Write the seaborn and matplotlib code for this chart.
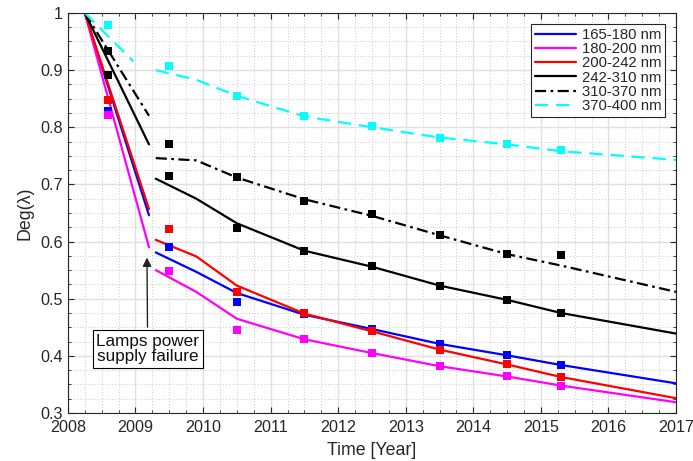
import numpy as np
import pandas as pd
import matplotlib
matplotlib.use("Agg")
import matplotlib.pyplot as plt
import seaborn as sns
from matplotlib.ticker import MultipleLocator

sns.set_style("ticks")
plt.rcParams['font.family'] = ['Liberation Sans', 'DejaVu Sans']

labels = ['165-180 nm', '180-200 nm', '200-242 nm', '242-310 nm', '310-370 nm', '370-400 nm']
colors = ['#0000ff', '#ff00ff', '#ff0000', '#000000', '#000000', '#00ffff']
styles = ['-', '-', '-', '-', (0, (5, 2, 1.2, 2)), (0, (6, 3.5))]

# fit before the lamp failure
t_pre = [2008.25, 2009.2]
t_pre_cyan = [2008.25, 2008.97]
pre_165 = [1.0, 0.646]
pre_180 = [1.0, 0.590]
pre_200 = [1.0, 0.657]
pre_242 = [1.0, 0.770]
pre_310 = [1.0, 0.820]
pre_370 = [1.0, 0.915]

# fit after the failure
t_post = [2009.3, 2009.9, 2010.5, 2011.5, 2012.5, 2013.5, 2014.5, 2015.3, 2017.0]
post_165 = [0.581, 0.547, 0.510, 0.472, 0.447, 0.421, 0.401, 0.384, 0.352]
post_180 = [0.550, 0.512, 0.465, 0.429, 0.405, 0.382, 0.364, 0.348, 0.319]
post_200 = [0.603, 0.574, 0.523, 0.474, 0.443, 0.411, 0.385, 0.363, 0.326]
post_242 = [0.710, 0.675, 0.632, 0.584, 0.556, 0.523, 0.498, 0.475, 0.439]
post_310 = [0.746, 0.742, 0.712, 0.674, 0.645, 0.611, 0.578, 0.558, 0.512]
post_370 = [0.900, 0.883, 0.855, 0.819, 0.800, 0.782, 0.770, 0.758, 0.743]

# measured points
t_meas = [2008.6, 2009.5, 2010.5, 2011.5, 2012.5, 2013.5, 2014.5, 2015.3]
meas_165 = [0.829, 0.591, 0.494, 0.473, 0.447, 0.421, 0.401, 0.384]
meas_180 = [0.821, 0.549, 0.445, 0.429, 0.405, 0.382, 0.365, 0.348]
meas_200 = [0.847, 0.622, 0.512, 0.475, 0.443, 0.411, 0.385, 0.363]
meas_242 = [0.892, 0.715, 0.623, 0.584, 0.557, 0.523, 0.498, 0.475]
meas_310 = [0.933, 0.770, 0.713, 0.671, 0.648, 0.611, 0.578, 0.576]
meas_370 = [0.978, 0.907, 0.855, 0.820, 0.803, 0.782, 0.771, 0.760]

pre = [pre_165, pre_180, pre_200, pre_242, pre_310, pre_370]
post = [post_165, post_180, post_200, post_242, post_310, post_370]
meas = [meas_165, meas_180, meas_200, meas_242, meas_310, meas_370]

fig = plt.figure(figsize=(6.93, 4.61), dpi=100)
ax = fig.add_axes([0.098, 0.104, 0.8775, 0.868])

for i in range(6):
    tp = t_pre_cyan if i == 5 else t_pre
    sns.lineplot(x=tp, y=pre[i], ax=ax, color=colors[i], linestyle=styles[i],
                 lw=1.6, estimator=None, sort=False, errorbar=None)
    sns.lineplot(x=t_post, y=post[i], ax=ax, color=colors[i], linestyle=styles[i],
                 lw=1.6, estimator=None, sort=False, errorbar=None, label=labels[i])
    sns.scatterplot(x=t_meas, y=meas[i], ax=ax, color=colors[i], marker='s',
                    s=36, linewidth=0, zorder=3)

ax.set_xlim(2008, 2017)
ax.set_ylim(0.3, 1.0)
ax.xaxis.set_major_locator(MultipleLocator(1))
ax.xaxis.set_minor_locator(MultipleLocator(0.25))
ax.yaxis.set_minor_locator(MultipleLocator(0.025))
ax.set_yticks(np.arange(0.3, 1.01, 0.1))
ax.set_yticklabels(['0.3', '0.4', '0.5', '0.6', '0.7', '0.8', '0.9', '1'])

ax.set_axisbelow(True)
ax.grid(which='major', color='#e0e0e0', lw=1.0, ls='-')
ax.grid(which='minor', color='#b8b8b8', lw=0.6, ls=(0, (1, 2.5)))

ax.tick_params(which='both', direction='in', top=True, right=True,
               colors='#262626', labelsize=11.6)
ax.tick_params(axis='x', which='major', pad=5)
ax.tick_params(which='major', length=4, width=0.8)
ax.tick_params(which='minor', length=2, width=0.6)
for sp in ax.spines.values():
    sp.set_color('#262626')
    sp.set_linewidth(0.8)

ax.set_xlabel('Time [Year]', fontsize=12.8, color='#262626', labelpad=5)
ax.set_ylabel('Deg(λ)', fontsize=12.8, color='#262626', labelpad=5)

ax.annotate('Lamps power\nsupply failure', xy=(2009.17, 0.577), xytext=(2009.18, 0.412),
            ha='center', va='center', fontsize=12.3, color='#111111', linespacing=1.05,
            bbox=dict(boxstyle='square,pad=0.2', fc='white', ec='black', lw=0.8),
            arrowprops=dict(arrowstyle='-|>', color='#222222', lw=1.0, mutation_scale=13))

leg = ax.legend(loc='upper right', fontsize=10.7, frameon=True, fancybox=False,
                edgecolor='#262626', framealpha=1, handlelength=2.8,
                labelspacing=0.02, borderpad=0.25, handletextpad=0.35,
                borderaxespad=0.75)
leg.get_frame().set_linewidth(0.8)

fig.savefig('out.png', dpi=100)
